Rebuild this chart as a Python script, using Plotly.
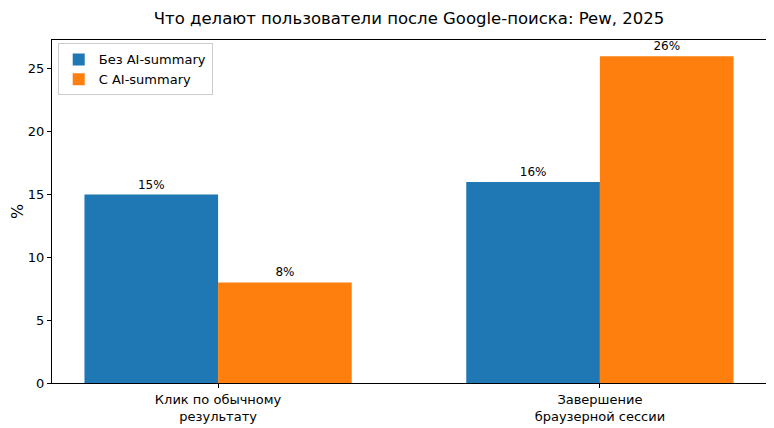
import plotly.graph_objects as go

categories = ["Клик по обычному<br>результату", "Завершение<br>браузерной сессии"]
without_ai = [15, 16]
with_ai = [8, 26]
series_names = ["Без AI-summary", "С AI-summary"]

FONT = "DejaVu Sans"

# page body adds ~8px offset, so figure is a bit smaller than the window
W, H = 766, 420

fig = go.Figure()
fig.add_trace(go.Bar(x=categories, y=without_ai, name=series_names[0],
                     marker=dict(color="#1f77b4", line=dict(width=0)),
                     text=[f"{v}%" for v in without_ai], textposition="outside",
                     textfont=dict(size=12, color="black"), cliponaxis=False))
fig.add_trace(go.Bar(x=categories, y=with_ai, name=series_names[1],
                     marker=dict(color="#ff7f0e", line=dict(width=0)),
                     text=[f"{v}%" for v in with_ai], textposition="outside",
                     textfont=dict(size=12, color="black"), cliponaxis=False))

fig.update_layout(
    width=W, height=H,
    margin=dict(l=44, r=8, t=32, b=45, autoexpand=False),
    paper_bgcolor="white", plot_bgcolor="white",
    font=dict(family=FONT, size=13, color="black"),
    title=dict(text="Что делают пользователи после Google-поиска: Pew, 2025",
               x=0.5, xanchor="center", xref="paper",
               y=1 - 10 / H, yref="container", yanchor="middle",
               font=dict(size=16.5), automargin=False),
    barmode="group", bargap=0.3, bargroupgap=0,
    legend=dict(x=0.008, y=0.99, xanchor="left", yanchor="top",
                bgcolor="white", bordercolor="#cccccc", borderwidth=1,
                font=dict(size=13), tracegroupgap=0),
    showlegend=True,
)
fig.update_xaxes(range=[-0.435, 1.435], showline=True, linecolor="black",
                 linewidth=1, mirror=True, ticks="outside", ticklen=4,
                 tickcolor="black", showgrid=False, automargin=False)
fig.update_yaxes(range=[0, 27.3], showline=True, linecolor="black",
                 linewidth=1, mirror=True, ticks="outside", ticklen=4,
                 tickcolor="black", showgrid=False, zeroline=False,
                 dtick=5, automargin=False, title=dict(text="%", standoff=10))

fig.write_html("out.html")
